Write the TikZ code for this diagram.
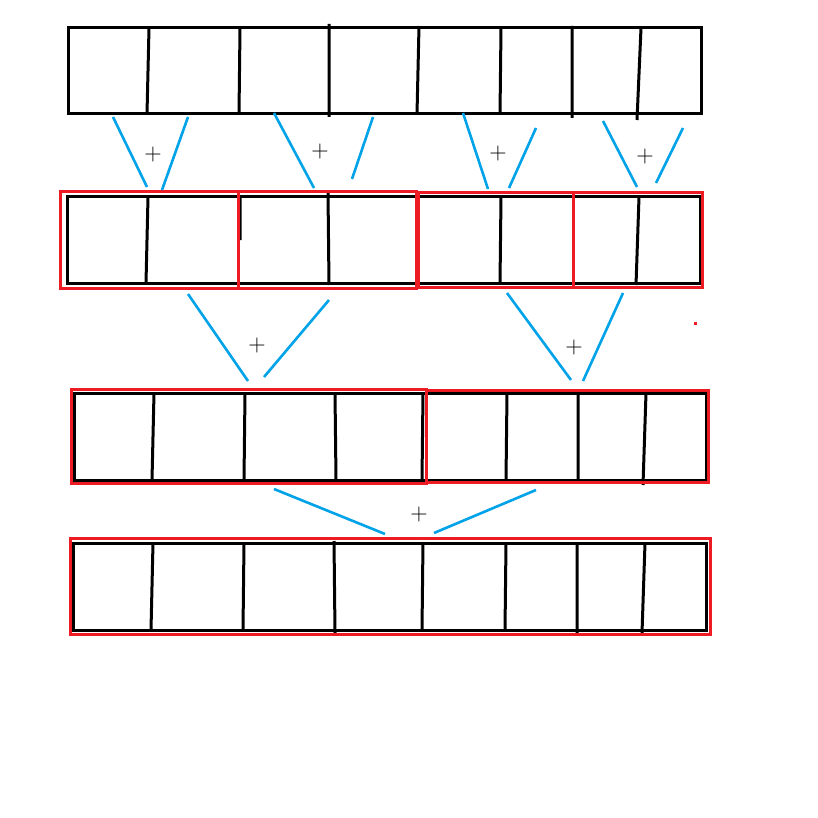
\documentclass[tikz,border=0pt]{standalone}
\definecolor{pred}{RGB}{237,28,36}
\definecolor{pblue}{RGB}{0,162,232}
\begin{document}
\begin{tikzpicture}[x=1pt,y=-1pt,line join=miter,
  blk/.style={line width=3pt,draw=black},
  redbox/.style={line width=3pt,draw=pred},
  link/.style={line width=2.6pt,draw=pblue},
  plus/.style={font=\fontsize{24}{24}\selectfont,inner sep=0pt,text=black}]
\useasboundingbox (0,0) rectangle (818,818);
\fill[white] (0,0) rectangle (818,818);

% ---- row 1 ----
\draw[blk] (68,28) rectangle (701,114);
\draw[blk] (149,28)--(147,114) (240,28)--(239,114) (329,24)--(329,117)
  (419,26)--(417,114) (501,28)--(500,114) (572,26)--(572,118) (641,28)--(637,120);

% ---- row 2 ----
\draw[blk] (67,197) rectangle (700,283);
\draw[blk] (148,197)--(146,283) (240,197)--(240,240) (328,193)--(329,285)
  (501,197)--(500,283) (639,197)--(636,285);
\draw[redbox] (60,192) rectangle (238,288);
\draw[redbox] (238,192) rectangle (416,288);
\draw[redbox] (418,193) rectangle (573,287);
\draw[redbox] (573,193) rectangle (702,287);

% ---- row 3 ----
\draw[blk] (74,393) rectangle (706,480);
\draw[blk] (154,393)--(152,480) (245,393)--(244,480) (335,393)--(336,480)
  (423,393)--(422,480) (507,393)--(506,480) (578,393)--(578,480) (646,393)--(643,485);
\draw[redbox] (71,389) rectangle (426,483);
\draw[redbox] (426,390) rectangle (708,482);

% ---- row 4 ----
\draw[blk] (73,543) rectangle (706,630);
\draw[blk] (153,543)--(151,630) (244,543)--(243,630) (334,541)--(335,633)
  (423,542)--(422,630) (506,543)--(505,630) (577,543)--(577,633) (645,543)--(642,633);
\draw[redbox] (70,538) rectangle (710,634);

% ---- connectors ----
\coordinate (a1) at (113,117); \coordinate (a2) at (147,187);
\coordinate (b1) at (188,117); \coordinate (b2) at (162,190);
\coordinate (c1) at (274,113); \coordinate (c2) at (314,188);
\coordinate (d1) at (373,117); \coordinate (d2) at (352,179);
\coordinate (e1) at (463,113); \coordinate (e2) at (488,189);
\coordinate (f1) at (536,128); \coordinate (f2) at (509,188);
\coordinate (g1) at (603,121); \coordinate (g2) at (637,187);
\coordinate (h1) at (683,128); \coordinate (h2) at (656,183);
\coordinate (i1) at (188,294); \coordinate (i2) at (248,381);
\coordinate (j1) at (329,300); \coordinate (j2) at (264,377);
\coordinate (k1) at (507,293); \coordinate (k2) at (571,380);
\coordinate (l1) at (623,293); \coordinate (l2) at (583,381);
\coordinate (m1) at (274,489); \coordinate (m2) at (385,534);
\coordinate (n1) at (536,490); \coordinate (n2) at (434,533);
\draw[link] (a1)--(a2) (b1)--(b2) (c1)--(c2) (d1)--(d2)
  (e1)--(e2) (f1)--(f2) (g1)--(g2) (h1)--(h2)
  (i1)--(i2) (j1)--(j2) (k1)--(k2) (l1)--(l2)
  (m1)--(m2) (n1)--(n2);

% ---- plus signs ----
\node[plus] (p1) at (153,155) {+};
\node[plus] (p2) at (320,152) {+};
\node[plus] (p3) at (498,154) {+};
\node[plus] (p4) at (645,157) {+};
\node[plus] (p5) at (257,346) {+};
\node[plus] (p6) at (574,348) {+};
\node[plus] (p7) at (419,515) {+};

% ---- stray dot ----
\fill[pred] (693.5,321.5) rectangle (696.5,324.5);
\end{tikzpicture}
\end{document}
